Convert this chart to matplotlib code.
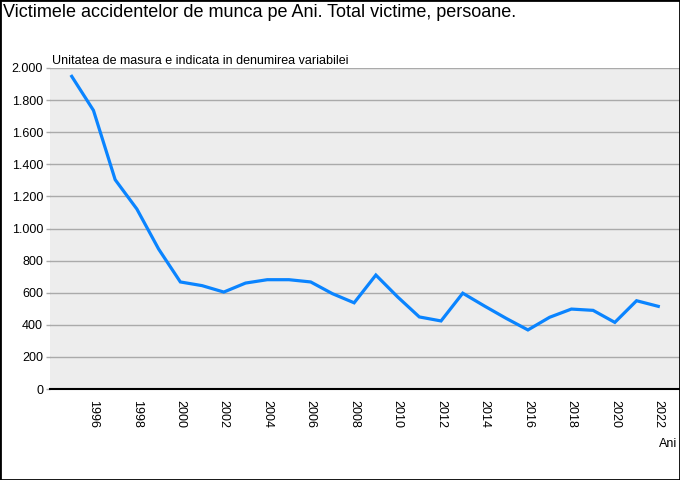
import matplotlib.pyplot as plt
from matplotlib.ticker import FuncFormatter
from matplotlib.patches import Rectangle

years = list(range(1995, 2023))
victims = [1948, 1736, 1304, 1121, 872, 667, 644, 604, 660, 681,
           681, 667, 594, 537, 710, 574, 449, 424, 597, 517,
           440, 368, 447, 498, 490, 415, 550, 515]
tick_years = list(range(1996, 2023, 2))
y_ticks = list(range(0, 2001, 200))

title = 'Victimele accidentelor de munca pe Ani. Total victime, persoane.'
subtitle = 'Unitatea de masura e indicata in denumirea variabilei'

plt.rcParams['font.family'] = ['Liberation Sans', 'DejaVu Sans']

fig = plt.figure(figsize=(6.8, 4.8), dpi=100)
ax = fig.add_axes([50 / 680, 91 / 480, 630 / 680, 321 / 480])
ax.set_facecolor('#ededed')

ax.plot(years, victims, color='#0a84ff', linewidth=2.3, solid_joinstyle='miter')

ax.set_xlim(1994, 2023)
ax.set_ylim(0, 2000)
ax.set_xticks(tick_years)
ax.set_xticklabels([str(y) for y in tick_years], rotation=270, fontsize=9)
ax.set_yticks(y_ticks)
ax.yaxis.set_major_formatter(FuncFormatter(lambda v, p: f'{int(v):,}'.replace(',', '.')))
ax.tick_params(axis='y', labelsize=9, length=3, width=1, color='#aaaaaa', pad=2)
ax.tick_params(axis='x', length=0, pad=8)
ax.grid(axis='y', color='#aaaaaa', linewidth=1)
ax.set_axisbelow(True)
for side in ['top', 'right', 'left']:
    ax.spines[side].set_visible(False)
ax.spines['bottom'].set_color('black')
ax.spines['bottom'].set_linewidth(1.5)
ax.spines['bottom'].set_zorder(5)

fig.text(3 / 680, 1 - 17 / 480, title, fontsize=13, ha='left', va='baseline')
fig.text(52 / 680, 1 - 64 / 480, subtitle, fontsize=9, ha='left', va='baseline')
fig.text(677 / 680, 1 - 447 / 480, 'Ani', fontsize=9, ha='right', va='baseline')

fig.patches.append(Rectangle((0, 0), 1, 1, transform=fig.transFigure,
                             fill=False, edgecolor='black', linewidth=2))

plt.savefig('out.png', dpi=100)
